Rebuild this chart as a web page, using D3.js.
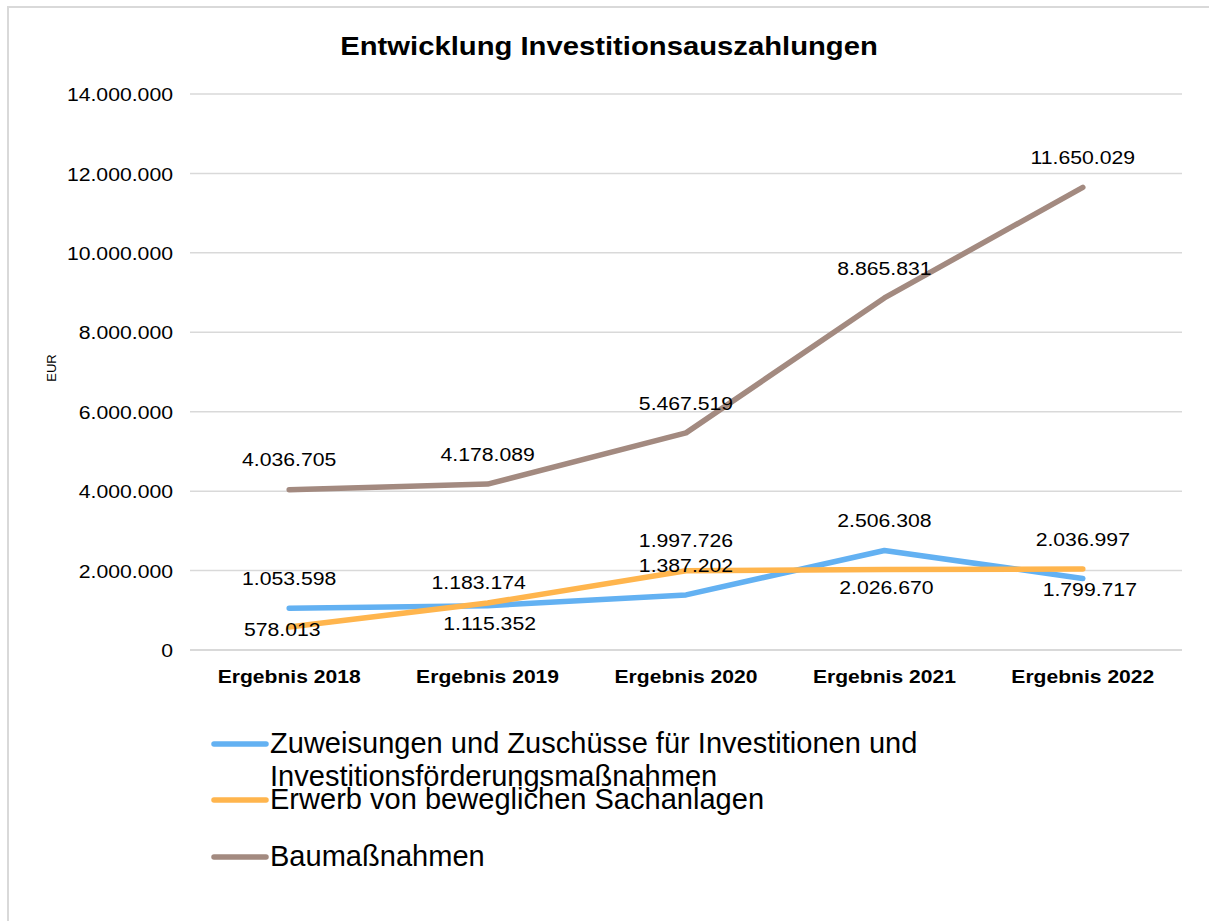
<!DOCTYPE html>
<html><head><meta charset="utf-8">
<script src="https://cdn.jsdelivr.net/npm/d3@7"></script>
<style>
html,body{margin:0;padding:0;background:#fff;}
svg{display:block;font-family:"Liberation Sans",Arial,sans-serif;}
</style></head>
<body>
<svg id="chart" width="1209" height="921"></svg>
<script>
const title = "Entwicklung Investitionsauszahlungen";
const yAxisLabel = "EUR";
const categories = ["Ergebnis 2018","Ergebnis 2019","Ergebnis 2020","Ergebnis 2021","Ergebnis 2022"];
const seriesNames = ["Zuweisungen und Zuschüsse für Investitionen und Investitionsförderungsmaßnahmen","Erwerb von beweglichen Sachanlagen","Baumaßnahmen"];
const legendLines = [["Zuweisungen und Zuschüsse für Investitionen und","Investitionsförderungsmaßnahmen"],["Erwerb von beweglichen Sachanlagen"],["Baumaßnahmen"]];
const zuweisungen = [1053598, 1115352, 1387202, 2506308, 1799717];
const erwerb = [578013, 1183174, 1997726, 2026670, 2036997];
const baumassnahmen = [4036705, 4178089, 5467519, 8865831, 11650029];
const yTicks = [0, 2000000, 4000000, 6000000, 8000000, 10000000, 12000000, 14000000];
const seriesColors = ["#63B1F2", "#FFB54D", "#A38A80"];
const labelPlacement = [
  ["above","belowNear","above","above","belowSlight"],
  ["center","aboveNear","above","belowNear","above"],
  ["above","above","above","above","above"]
];

const seriesValues = [zuweisungen, erwerb, baumassnahmen];
const FS = 19, SX = 1.116;
const svg = d3.select("#chart");
const fmt = v => d3.format(",")(v).replace(/,/g, ".");

// frame
svg.append("rect").attr("x",8).attr("y",7).attr("width",1400).attr("height",1200)
  .attr("fill","#fff").attr("stroke","#d9d9d9").attr("stroke-width",2);

const x = d3.scaleBand().domain(categories).range([190,1182]);
const y = d3.scaleLinear().domain([0,14000000]).range([650,94]);
const cx = c => x(c) + x.bandwidth()/2;

// title
svg.append("text").attr("transform",`translate(609,55) scale(1.125,1)`)
  .attr("text-anchor","middle").attr("font-size",26).attr("font-weight","bold").attr("fill","#000").text(title);

// gridlines
svg.append("g").selectAll("line").data(yTicks).join("line")
  .attr("x1",190).attr("x2",1182).attr("y1",d=>y(d)).attr("y2",d=>y(d))
  .attr("stroke","#d9d9d9").attr("stroke-width",d=>d===0?2.2:1.5);

// y axis
const yAxis = svg.append("g").attr("transform","translate(190,0)")
  .call(d3.axisLeft(y).tickValues(yTicks).tickSize(0).tickFormat(fmt));
yAxis.select(".domain").remove();
yAxis.selectAll("text").attr("x",0).attr("dy","0.35em")
  .attr("transform",`translate(-17,0) scale(${SX},1)`)
  .attr("font-size",FS).attr("font-family","'Liberation Sans',Arial,sans-serif").attr("fill","#000");

// x axis
const xAxis = svg.append("g").attr("transform","translate(0,650)")
  .call(d3.axisBottom(x).tickSize(0));
xAxis.select(".domain").remove();
xAxis.selectAll("text").attr("y",0).attr("dy",0)
  .attr("transform",`translate(0,33) scale(1.14,1)`)
  .attr("font-size",18.5).attr("font-weight","bold").attr("font-family","'Liberation Sans',Arial,sans-serif").attr("fill","#000");

// y label
svg.append("text").attr("transform","translate(56,368) rotate(-90)")
  .attr("text-anchor","middle").attr("font-size",13).attr("fill","#000").text(yAxisLabel);

// lines
const line = d3.line().x((d,i)=>cx(categories[i])).y(d=>y(d));
seriesValues.forEach((vals,si)=>{
  svg.append("path").datum(vals).attr("d",line).attr("fill","none")
    .attr("stroke",seriesColors[si]).attr("stroke-width",5.5)
    .attr("stroke-linejoin","round").attr("stroke-linecap","round");
});

// data labels
const place = {above:[0,-30], below:[0,20], belowNear:[2,18], belowSlight:[7,11], aboveNear:[-9,-21], center:[-7,2]};
[0,1,2].forEach(si=>{
  seriesValues[si].forEach((v,i)=>{
    const p = place[labelPlacement[si][i]];
    svg.append("text")
      .attr("transform",`translate(${cx(categories[i])+p[0]},${y(v)+p[1]}) scale(${SX},1)`)
      .attr("text-anchor","middle").attr("dy","0.35em").attr("font-size",FS).attr("fill","#000")
      .text(fmt(v));
  });
});

// legend
const legendY = [744, 800, 857];
legendLines.forEach((lines,si)=>{
  const g = svg.append("g");
  g.append("line").attr("x1",214).attr("x2",266).attr("y1",legendY[si]).attr("y2",legendY[si])
    .attr("stroke",seriesColors[si]).attr("stroke-width",5.5).attr("stroke-linecap","round");
  lines.forEach((t,li)=>{
    g.append("text").attr("transform",`translate(270,${legendY[si]+9+li*33}) scale(0.985,1)`)
      .attr("font-size",29.5).attr("fill","#000").text(t);
  });
});
</script>
</body></html>
